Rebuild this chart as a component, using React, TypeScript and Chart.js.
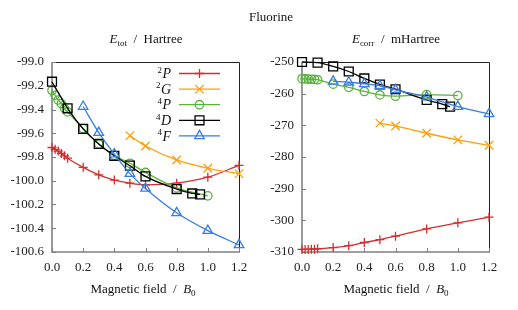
import React, { useEffect, useRef } from "react";
import { Chart, registerables } from "chart.js";
import { drawPoint } from "chart.js/helpers";
Chart.register(...registerables);

// ---- data ----
const P2_x = [0, 0.02, 0.04, 0.06, 0.08, 0.1, 0.2, 0.3, 0.4, 0.5, 0.6, 0.8, 1.0, 1.2];
const P2_tot = [-99.72, -99.735, -99.75, -99.77, -99.79, -99.81, -99.887, -99.95, -99.994, -100.02, -100.034, -100.02, -99.97, -99.87];
const P2_corr = [-309.2, -309.2, -309.2, -309.1, -309.1, -309.0, -308.6, -308.0, -307.0, -306.1, -305.0, -302.7, -300.8, -299.0];

const G2_x = [0.5, 0.6, 0.8, 1.0, 1.2];
const G2_tot = [-99.62, -99.707, -99.825, -99.895, -99.94];
const G2_corr = [-269.3, -270.2, -272.5, -274.6, -276.3];

const P4_x = [0, 0.02, 0.04, 0.06, 0.08, 0.1, 0.2, 0.3, 0.4, 0.5, 0.6, 0.8, 1.0];
const P4_tot = [-99.24, -99.28, -99.32, -99.35, -99.39, -99.42, -99.56, -99.69, -99.785, -99.853, -99.93, -100.06, -100.127];
const P4_corr = [-255.3, -255.35, -255.4, -255.45, -255.5, -255.6, -257.0, -258.0, -259.3, -260.4, -260.8, -260.3, -260.6];

const D4_x = [0, 0.1, 0.2, 0.3, 0.4, 0.5, 0.6, 0.8, 0.9, 0.95];
const D4_tot = [-99.166, -99.39, -99.563, -99.69, -99.79, -99.873, -99.963, -100.07, -100.107, -100.115];
const D4_corr = [-250.0, -250.2, -251.4, -253.0, -255.2, -257.1, -258.6, -262.0, -263.3, -264.1];

const F4_x = [0.2, 0.3, 0.4, 0.5, 0.6, 0.8, 1.0, 1.2];
const F4_tot = [-99.375, -99.595, -99.775, -99.94, -100.065, -100.27, -100.42, -100.54];
const F4_corr = [-256.1, -256.4, -256.9, -257.5, -258.8, -261.1, -264.1, -266.4];

const seriesSup = ["2", "2", "4", "4", "4"];
const seriesLetter = ["P", "G", "P", "D", "F"];
const seriesColors = ["rgb(214,46,46)", "rgb(255,158,10)", "rgb(88,178,60)", "rgb(0,0,0)", "rgb(58,125,225)"];
const seriesStyles = ["cross", "crossRot", "circle", "rect", "triangle"];
const seriesRadius = [4.5, 6, 4.2, 6.3, 5.5];

const FONT = "'Liberation Serif', 'DejaVu Serif', serif";

const zip = (xs: number[], ys: number[]) => xs.map((x, i) => ({ x, y: ys[i] }));

function makeDatasets(panel: "tot" | "corr") {
  const xs = [P2_x, G2_x, P4_x, D4_x, F4_x];
  const ys = panel === "tot" ? [P2_tot, G2_tot, P4_tot, D4_tot, F4_tot] : [P2_corr, G2_corr, P4_corr, D4_corr, F4_corr];
  return xs.map((x, i) => ({
    label: seriesSup[i] + seriesLetter[i],
    data: zip(x, ys[i]),
    borderColor: seriesColors[i],
    backgroundColor: "transparent",
    pointBorderColor: seriesColors[i],
    pointBackgroundColor: "transparent",
    pointStyle: seriesStyles[i],
    pointRadius: seriesRadius[i],
    pointBorderWidth: 1.3,
    borderWidth: 1.3,
    cubicInterpolationMode: "monotone",
    clip: false,
    order: 5 - i,
  }));
}

const framePlugin = {
  id: "frame",
  beforeDatasetsDraw(chart: any) {
    const { ctx, chartArea: a, scales } = chart;
    ctx.save();
    ctx.strokeStyle = "#222";
    ctx.lineWidth = 1;
    ctx.beginPath();
    ctx.moveTo(a.left, a.top + 0.5);
    ctx.lineTo(a.right + 0.5, a.top + 0.5);
    ctx.lineTo(a.right + 0.5, a.bottom);
    ctx.stroke();
    ctx.strokeStyle = "#808080";
    ctx.lineWidth = 1.6;
    ctx.beginPath();
    ctx.moveTo(a.left, a.top);
    ctx.lineTo(a.left, a.bottom);
    ctx.lineTo(a.right + 1, a.bottom);
    ctx.stroke();
    ctx.lineWidth = 1;
    ctx.beginPath();
    scales.x.ticks.forEach((_t: any, i: number) => {
      const px = Math.round(scales.x.getPixelForTick(i)) + 0.5;
      ctx.moveTo(px, a.bottom);
      ctx.lineTo(px, a.bottom - 4);
    });
    scales.y.ticks.forEach((_t: any, i: number) => {
      const py = Math.round(scales.y.getPixelForTick(i)) + 0.5;
      ctx.moveTo(a.left, py);
      ctx.lineTo(a.left + 4, py);
    });
    ctx.stroke();
    ctx.restore();
  },
};

const legendPlugin = {
  id: "customLegend",
  afterDraw(chart: any) {
    if (!chart.options.plugins.customLegend?.show) return;
    const { ctx } = chart;
    ctx.save();
    const textRight = 171;
    const lineL = 179;
    const lineR = 220;
    for (let i = 0; i < 5; i++) {
      const y = 73.5 + i * 15.6;
      ctx.fillStyle = "#111";
      ctx.textBaseline = "middle";
      ctx.textAlign = "right";
      ctx.font = `italic 14px ${FONT}`;
      const lw = ctx.measureText(seriesLetter[i]).width;
      ctx.fillText(seriesLetter[i], textRight, y + 1);
      ctx.font = `9px ${FONT}`;
      ctx.fillText(seriesSup[i], textRight - lw - 0.5, y - 3);
      ctx.strokeStyle = seriesColors[i];
      ctx.lineWidth = 1.3;
      ctx.beginPath();
      ctx.moveTo(lineL, y);
      ctx.lineTo(lineR, y);
      ctx.stroke();
      ctx.fillStyle = "rgba(0,0,0,0)";
      drawPoint(ctx, { pointStyle: seriesStyles[i], rotation: 0, radius: seriesRadius[i], borderWidth: 1.3 }, (lineL + lineR) / 2, y);
    }
    ctx.restore();
  },
};

function Panel(props: {
  panel: "tot" | "corr";
  yMin: number;
  yMax: number;
  yStep: number;
  yDecimals: number;
  yAxisWidth: number;
  padRight: number;
  legend: boolean;
}) {
  const ref = useRef<HTMLCanvasElement | null>(null);
  useEffect(() => {
    if (!ref.current) return;
    const chart = new Chart(ref.current, {
      type: "line",
      data: { datasets: makeDatasets(props.panel) as any },
      options: {
        responsive: false,
        animation: false,
        parsing: false as any,
        layout: { padding: { top: 62, right: props.padRight, left: 0, bottom: 0 } },
        plugins: {
          legend: { display: false },
          tooltip: { enabled: false },
          customLegend: { show: props.legend },
        } as any,
        scales: {
          x: {
            type: "linear",
            min: 0,
            max: 1.2,
            grid: { display: false, drawTicks: false },
            border: { display: false },
            ticks: {
              stepSize: 0.2,
              padding: 8,
              color: "#222",
              font: { family: FONT, size: 13 },
              maxRotation: 0,
              callback: (v: any) => Number(v).toFixed(1),
            },
            afterFit: (s: any) => {
              s.height = 58;
            },
          },
          y: {
            type: "linear",
            min: props.yMin,
            max: props.yMax,
            grid: { display: false, drawTicks: false },
            border: { display: false },
            ticks: {
              stepSize: props.yStep,
              padding: 8,
              color: "#222",
              font: { family: FONT, size: 13 },
              callback: (v: any) => Number(v).toFixed(props.yDecimals),
            },
            afterFit: (s: any) => {
              s.width = props.yAxisWidth;
            },
          },
        },
      },
      plugins: [framePlugin, legendPlugin],
    });
    return () => chart.destroy();
  }, []);
  return <canvas ref={ref} width={259} height={310} style={{ width: 259, height: 310, display: "block" }} />;
}

const textStyle: React.CSSProperties = {
  position: "absolute",
  fontFamily: FONT,
  fontSize: 13,
  color: "#111",
  whiteSpace: "nowrap",
  transform: "translate(-50%, -50%)",
  lineHeight: 1,
};

export default function App() {
  return (
    <div style={{ position: "absolute", left: 0, top: 0, width: 518, height: 310, background: "#fff", overflow: "hidden" }}>
      <div style={{ position: "absolute", left: 0, top: 0 }}>
        <Panel panel="tot" yMin={-100.6} yMax={-99.0} yStep={0.2} yDecimals={1} yAxisWidth={52} padRight={20} legend={true} />
      </div>
      <div style={{ position: "absolute", left: 259, top: 0 }}>
        <Panel panel="corr" yMin={-310} yMax={-250} yStep={10} yDecimals={0} yAxisWidth={43} padRight={29} legend={false} />
      </div>
      <div style={{ ...textStyle, left: 271, top: 16 }}>Fluorine</div>
      <div style={{ ...textStyle, left: 146, top: 40 }}>
        <i>E</i>
        <sub style={{ fontSize: 9 }}>tot</sub>&nbsp;&nbsp;/&nbsp;&nbsp;Hartree
      </div>
      <div style={{ ...textStyle, left: 396, top: 40 }}>
        <i>E</i>
        <sub style={{ fontSize: 9 }}>corr</sub>&nbsp;&nbsp;/&nbsp;&nbsp;mHartree
      </div>
      <div style={{ ...textStyle, left: 143, top: 290 }}>
        Magnetic field&nbsp;&nbsp;/&nbsp;&nbsp;<i>B</i>
        <sub style={{ fontSize: 9 }}>0</sub>
      </div>
      <div style={{ ...textStyle, left: 396, top: 290 }}>
        Magnetic field&nbsp;&nbsp;/&nbsp;&nbsp;<i>B</i>
        <sub style={{ fontSize: 9 }}>0</sub>
      </div>
    </div>
  );
}
